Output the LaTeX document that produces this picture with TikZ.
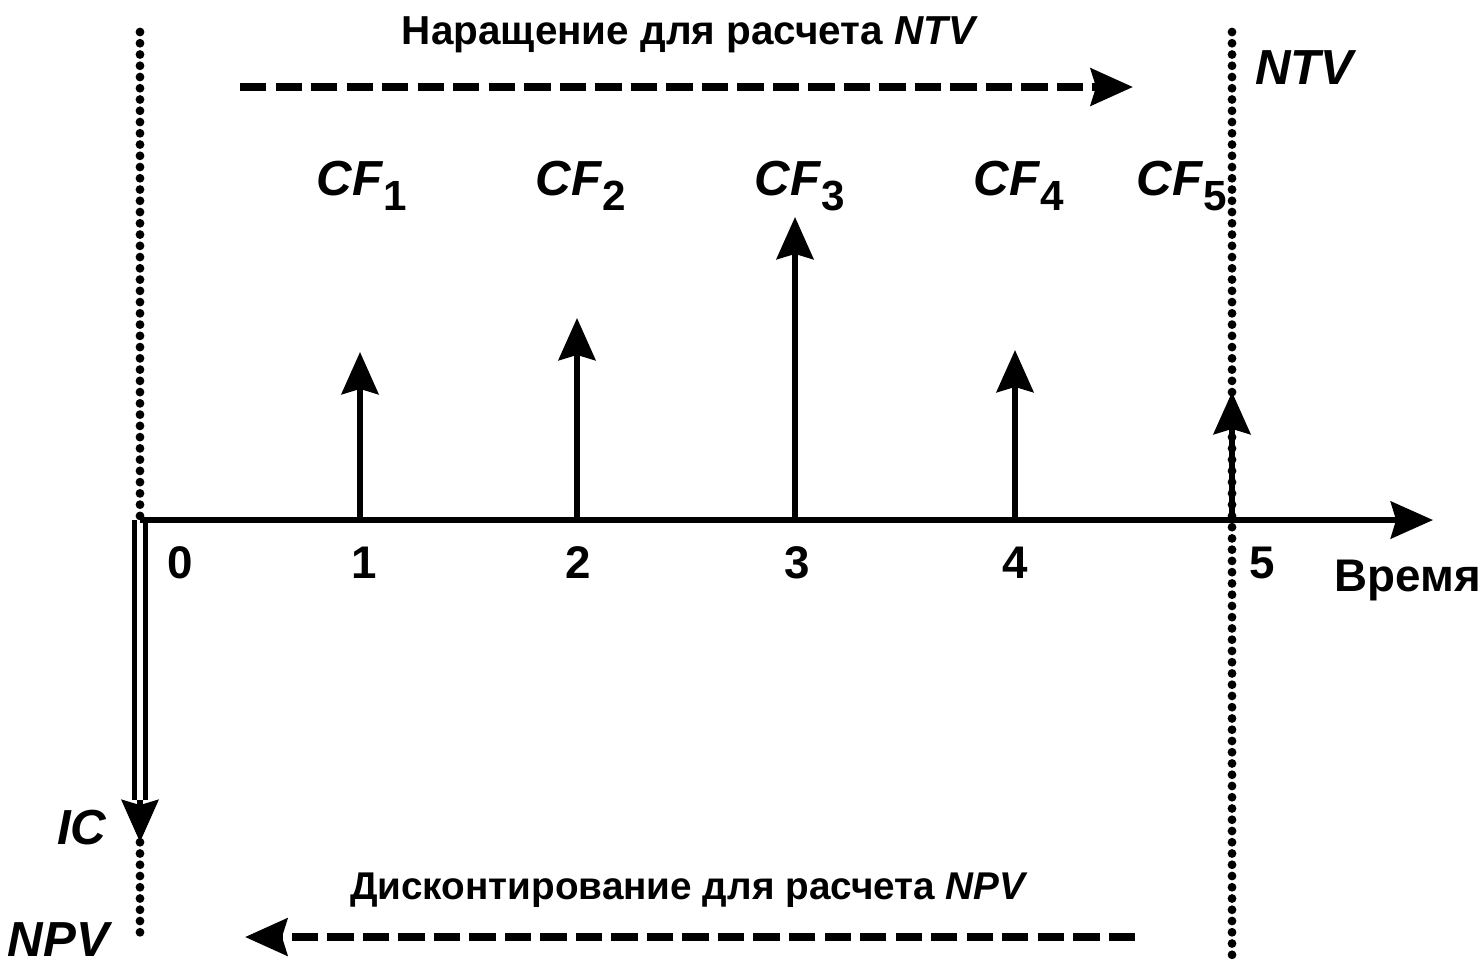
\documentclass[tikz,border=0pt]{standalone}
\usepackage{fontspec}
\setmainfont{Liberation Sans}
\usetikzlibrary{arrows.meta}

\newcommand{\cflabel}[1]{\textit{CF}\raisebox{-0.6ex}{\fontsize{12}{12}\selectfont #1}}

\begin{document}
\begin{tikzpicture}[
    x=0.01cm, y=-0.01cm,
    every node/.style={font=\bfseries, inner sep=0pt},
    tip/.style={-{Stealth[length=12pt, width=10.5pt, inset=1.5pt]}},
    axisline/.style={line width=1.7pt, tip},
    flow/.style={line width=1.6pt, tip},
    dotline/.style={line width=2.5pt, line cap=round, dash pattern=on 0pt off 3.2pt},
    dashline/.style={line width=2.2pt, dash pattern=on 7.5pt off 2.6pt, tip},
    big/.style={font=\bfseries\fontsize{14}{16}\selectfont},
    mid/.style={font=\bfseries\fontsize{13}{15}\selectfont},
    small/.style={font=\bfseries\fontsize{11.5}{13}\selectfont}
]
\useasboundingbox (0,0) rectangle (1483,963);

% Points on the time axis
\coordinate (O) at (140,520);
\coordinate (T1) at (360,520);
\coordinate (T2) at (577,520);
\coordinate (T3) at (795,520);
\coordinate (T4) at (1015,520);
\coordinate (T5) at (1232,520);
\coordinate (End) at (1433,520);

% Tops of the cash flow arrows
\coordinate (C1) at (360,352);
\coordinate (C2) at (577,318);
\coordinate (C3) at (795,217);
\coordinate (C4) at (1015,350);
\coordinate (C5) at (1232,392);

% Dotted borders
\coordinate (Ltop) at (140,32);
\coordinate (Lbot) at (140,943);
\coordinate (Rtop) at (1232,32);
\coordinate (Rbot) at (1232,963);
\draw[dotline] (Ltop) -- (Lbot);
\draw[dotline] (Rtop) -- (Rbot);

% Investment going out
\coordinate (ICneck) at (140,800);
\coordinate (ICtip) at (140,842);
\draw[line width=1.5pt, double distance=1.5pt] (O) -- (ICneck);
\draw[line width=1.5pt, tip] (ICneck) -- (ICtip);

% Time axis and cash flows
\draw[axisline] (O) -- (End);
\draw[flow] (T1) -- (C1);
\draw[flow] (T2) -- (C2);
\draw[flow] (T3) -- (C3);
\draw[flow] (T4) -- (C4);
\draw[flow] (T5) -- (C5);

% Labels
\node[mid] (n0) at (180,563) {0};
\node[mid] (n1) at (364,563) {1};
\node[mid] (n2) at (578,563) {2};
\node[mid] (n3) at (797,563) {3};
\node[mid] (n4) at (1015,563) {4};
\node[mid] (n5) at (1262,563) {5};
\node[mid] (time) at (1408,580) {Время};

\node[big, anchor=base] (cf1) at (362,195) {\cflabel{1}};
\node[big, anchor=base] (cf2) at (581,195) {\cflabel{2}};
\node[big, anchor=base] (cf3) at (800,195) {\cflabel{3}};
\node[big, anchor=base] (cf4) at (1019,195) {\cflabel{4}};
\node[big, anchor=base] (cf5) at (1182,195) {\cflabel{5}};

\node[big] (ntv) at (1306,68) {\textit{NTV}};
\node[big] (ic) at (82,828) {\textit{IC}};
\node[big] (npv) at (60,940) {\textit{NPV}};

% Compounding and discounting
\node[small] (accr) at (690,35) {Наращение для расчета \textit{NTV}};
\node[small, font=\bfseries\fontsize{11}{13}\selectfont] (disc) at (689,890) {Дисконтирование для расчета \textit{NPV}};
\coordinate (AccA) at (240,87);
\coordinate (AccB) at (1133,87);
\coordinate (DiscA) at (1135,937);
\coordinate (DiscB) at (245,937);
\draw[dashline] (AccA) -- (AccB);
\draw[dashline] (DiscA) -- (DiscB);
\end{tikzpicture}
\end{document}
